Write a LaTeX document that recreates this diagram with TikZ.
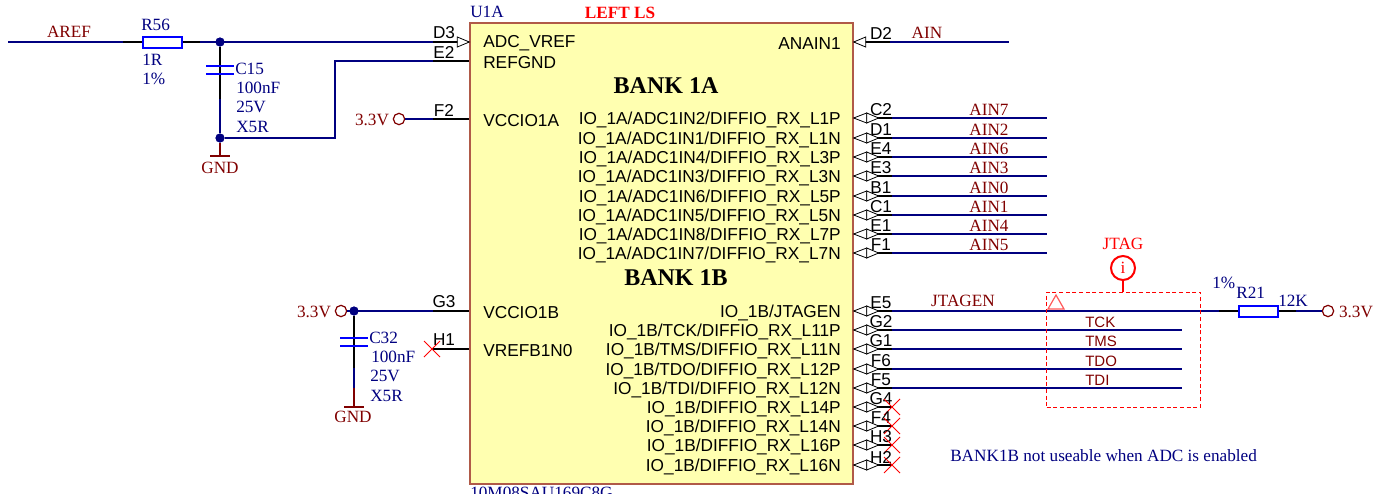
\documentclass[tikz,border=0pt]{standalone}
\usepackage{fontspec}
\setmainfont{Liberation Serif}
\newfontfamily\pinfont{Liberation Sans}
\definecolor{wirenavy}{HTML}{000080}
\definecolor{netred}{HTML}{800000}
\definecolor{chipfill}{HTML}{FFFFB0}
\definecolor{chipedge}{HTML}{B05A48}
\tikzset{
  wire/.style={draw=wirenavy, line width=1.5pt},
  pinline/.style={draw=black, line width=1.5pt},
  pwrline/.style={draw=netred, line width=1.5pt},
  plate/.style={draw=blue, line width=1.5pt},
  chip/.style={draw=chipedge, fill=chipfill, line width=1pt, minimum width=287.25pt, minimum height=345.75pt, inner sep=0},
  rbody/.style={draw=blue, fill=white, line width=1.5pt, minimum width=29.25pt, minimum height=8.25pt, inner sep=0},
  pinname/.style={font=\pinfont\fontsize{12.95}{14}\selectfont, inner sep=0},
  pinno/.style={font=\pinfont\fontsize{12.9}{14}\selectfont, inner sep=0},
  netlabel/.style={text=netred, font=\fontsize{12.9}{14}\selectfont, inner sep=0},
  jtaglabel/.style={text=netred, font=\pinfont\fontsize{11.25}{13}\selectfont, inner sep=0, anchor=west},
  partlabel/.style={text=wirenavy, font=\fontsize{12.9}{14}\selectfont, inner sep=0, anchor=west},
  banklabel/.style={font=\bfseries\fontsize{18}{20}\selectfont, inner sep=0},
  hubdot/.style={circle, fill=wirenavy, inner sep=0, minimum size=6.75pt},
  pwrring/.style={circle, draw=netred, fill=white, line width=.9pt, inner sep=0, minimum size=8.5pt},
  probe/.style={circle, draw=red, line width=1.5pt, text=red, inner sep=0, minimum size=18pt, font=\fontsize{12.9}{14}\selectfont},
  probebox/.style={draw=red, densely dashed, line width=.6pt, minimum width=115.5pt, minimum height=86.25pt, inner sep=0},
  biarrow/.pic={
    \draw[black, line width=.6pt, fill=white] (0,0) -- (13,-5) -- (13,5) -- cycle;
    \draw[black, line width=.6pt, fill=white] (25,0) -- (13,-5) -- (13,5) -- cycle;
  },
  inarrow/.pic={
    \draw[black, line width=.6pt, fill=white] (0,0) -- (-12,-5) -- (-12,5) -- cycle;
  },
  noconn/.pic={
    \draw[red, line width=.6pt] (-8,-8) -- (8,8) (-8,8) -- (8,-8);
  },
  gndbar/.pic={
    \draw[pwrline] (-10,0) -- (10,0);
  },
  capplates/.pic={
    \draw[plate] (-14,-4) -- (14,-4) (-14,4) -- (14,4);
  }
}
% right hand pin: y, pin name, pin number, end of black stub
\newcommand{\bipin}[4]{
  \coordinate (#3-in) at (u1a.east |- 0,#1);
  \coordinate (#3-out) at (#4,#1);
  \draw[pinline] (#3-in) -- (#3-out);
  \pic at (#3-in) {biarrow};
  \node[pinname, anchor=east] (#3-name) at (841,#1+1.5) {#2};
  \node[pinno] (#3-no) at (881,#1-8) {#3};
}
% left hand pin: y, pin name, pin number
\newcommand{\leftpin}[3]{
  \coordinate (#3-in) at (u1a.west |- 0,#1);
  \coordinate (#3-out) at (433,#1);
  \draw[pinline] (#3-out) -- (#3-in);
  \node[pinname, anchor=west] (#3-name) at (483,#1+1.5) {#2};
  \node[pinno] (#3-no) at (444,#1-9) {#3};
}

\begin{document}
\begin{tikzpicture}[x=.75pt, y=-.75pt]
\useasboundingbox (0,0) rectangle (1375,493);

\node[chip] (u1a) at (661.5,253.5) {};
\node[partlabel] (u1a-ref) at (470,12) {U1A};
\node[inner sep=0, text=red, font=\bfseries\fontsize{12.9}{14}\selectfont] (leftls) at (620,13) {LEFT LS};
\node[partlabel] (u1a-val) at (470,492.5) {10M08SAU169C8G};
\node[banklabel] (bank1a) at (666,86) {BANK 1A};
\node[banklabel] (bank1b) at (676,278) {BANK 1B};

% left side pins
\leftpin{42}{ADC\_VREF}{D3}
\leftpin{61}{REFGND}{E2}
\leftpin{119}{VCCIO1A}{F2}
\leftpin{311}{VCCIO1B}{G3}
\leftpin{349}{VREFB1N0}{H1}
\pic at (D3-in) {inarrow};
\pic at (432,349) {noconn};

% AREF filter
\coordinate (aref-end) at (8,42);
\coordinate (r56-a) at (123,42);
\coordinate (r56-b) at (200,42);
\coordinate (c15-lo) at (220,99);
\coordinate (e2-turn) at (335,138);
\node[rbody] (r56) at (162,42) {};
\node[hubdot] (vref-hub) at (220,42) {};
\node[hubdot] (c15-hub) at (220,138) {};
\coordinate (gnd15) at (220,156);
\draw[wire] (aref-end) -- (r56-a);
\draw[pinline] (r56-a) -- (r56);
\draw[pinline] (r56) -- (r56-b);
\draw[wire] (r56-b) -- (D3-out);
\draw[pinline] (vref-hub) -- (c15-lo);
\draw[wire] (c15-lo) -- (c15-hub);
\draw[wire] (c15-hub) -| (e2-turn) |- (E2-out);
\draw[pwrline] (c15-hub) -- (gnd15);
\pic at (gnd15) {gndbar};
\pic[fill=white] at (220,70) {capplates};
\node[hubdot] at (vref-hub) {};
\node[hubdot] at (c15-hub) {};
\node[netlabel] (aref) at (69,32) {AREF};
\node[partlabel] (r56-ref) at (141,25) {R56};
\node[partlabel] (r56-val) at (142,60) {1R};
\node[partlabel] (r56-tol) at (142,79) {1\%};
\node[partlabel] (c15-ref) at (235,69) {C15};
\node[partlabel] (c15-val) at (236,88) {100nF};
\node[partlabel] (c15-volt) at (236,107) {25V};
\node[partlabel] (c15-die) at (236,127) {X5R};
\node[netlabel] (gnd15-l) at (220,168) {GND};

% F2 and G3 supplies
\node[pwrring] (vcc-f2) at (399,119) {};
\node[netlabel] (vcc-f2-l) at (372,120) {3.3V};
\draw[wire] (vcc-f2) -- (F2-out);
\node[pwrring] (vcc-g3) at (341,311) {};
\node[netlabel] (vcc-g3-l) at (314,312) {3.3V};
\node[hubdot] (g3-hub) at (354,311) {};
\coordinate (c32-lo) at (354,368);
\coordinate (c32-gnd) at (354,388);
\coordinate (gnd32) at (354,407);
\draw[wire] (vcc-g3) -- (G3-out);
\draw[pinline] (g3-hub) -- (c32-lo);
\draw[wire] (c32-lo) -- (c32-gnd);
\draw[pwrline] (c32-gnd) -- (gnd32);
\pic at (gnd32) {gndbar};
\pic at (354,342) {capplates};
\node[hubdot] at (g3-hub) {};
\node[partlabel] (c32-ref) at (369,338) {C32};
\node[partlabel] (c32-val) at (371,357) {100nF};
\node[partlabel] (c32-volt) at (370,376) {25V};
\node[partlabel] (c32-die) at (370,396) {X5R};
\node[netlabel] (gnd32-l) at (353,417) {GND};

% ANAIN
\coordinate (D2-in) at (u1a.east |- 0,42);
\coordinate (D2-out) at (890,42);
\coordinate (D2-end) at (1009,42);
\draw[pinline] (D2-in) -- (D2-out);
\draw[wire] (D2-out) -- (D2-end);
\pic[xscale=-1] at (D2-in) {inarrow};
\node[pinname, anchor=east] (D2-name) at (841,43.5) {ANAIN1};
\node[pinno] (D2-no) at (881,33) {D2};
\node[netlabel] (ain) at (927,33) {AIN};

% ADC pins
\foreach \y/\adc/\lane/\no/\net in {118/ADC1IN2/L1P/C2/AIN7, 138/ADC1IN1/L1N/D1/AIN2, 157/ADC1IN4/L3P/E4/AIN6, 176/ADC1IN3/L3N/E3/AIN3, 196/ADC1IN6/L5P/B1/AIN0, 215/ADC1IN5/L5N/C1/AIN1, 234/ADC1IN8/L7P/E1/AIN4, 253/ADC1IN7/L7N/F1/AIN5} {
  \bipin{\y}{IO\_1A/\adc/DIFFIO\_RX\_\lane}{\no}{892}
  \coordinate (\no-end) at (1047,\y);
  \draw[wire] (\no-out) -- (\no-end);
  \node[netlabel] (\no-net) at (989,\y-8) {\net};
}

% JTAG pins
\bipin{311}{IO\_1B/JTAGEN}{E5}{892}
\foreach \y/\fn/\lane/\no in {330/TCK/L11P/G2, 349/TMS/L11N/G1, 369/TDO/L12P/F6, 388/TDI/L12N/F5} {
  \bipin{\y}{IO\_1B/\fn/DIFFIO\_RX\_\lane}{\no}{892}
  \coordinate (\no-end) at (1182,\y);
  \draw[wire] (\no-out) -- (\no-end);
  \node[jtaglabel] (\no-net) at (1085,\y-8) {\fn};
}

% spare pins
\foreach \y/\lane/\no in {407/L14P/G4, 426/L14N/F4, 445/L16P/H3, 465/L16N/H2} {
  \bipin{\y}{IO\_1B/DIFFIO\_RX\_\lane}{\no}{892}
  \pic at (\no-out) {noconn};
}

% JTAGEN pull up
\node[rbody] (r21) at (1258,311) {};
\node[pwrring] (vcc-r21) at (1328,311) {};
\coordinate (r21-a) at (1219,311);
\coordinate (r21-b) at (1296,311);
\draw[wire] (E5-out) -- (r21-a);
\draw[pinline] (r21-a) -- (r21);
\draw[pinline] (r21) -- (r21-b);
\draw[wire] (r21-b) -- (vcc-r21);
\node[netlabel] (jtagen) at (963,301) {JTAGEN};
\node[partlabel] (r21-tol) at (1212,283) {1\%};
\node[partlabel] (r21-ref) at (1236,293) {R21};
\node[partlabel] (r21-val) at (1278,301) {12K};
\node[netlabel] (vcc-r21-l) at (1356,312) {3.3V};

% JTAG probe
\node[probebox] (jtagbox) at (1123.5,349.5) {};
\node[probe] (jtagi) at (1123,268) {i};
\draw[red, line width=1.5pt] (jtagi) -- (jtagi |- jtagbox.north);
\node[inner sep=0, text=red, font=\fontsize{12.9}{14}\selectfont] (jtag-l) at (1123,244) {JTAG};
\draw[red!65, line width=.9pt] (1048,309) -- (1056,295) -- (1064,309) -- cycle;

\node[partlabel] (note) at (950,456) {BANK1B not useable when ADC is enabled};
\end{tikzpicture}
\end{document}
